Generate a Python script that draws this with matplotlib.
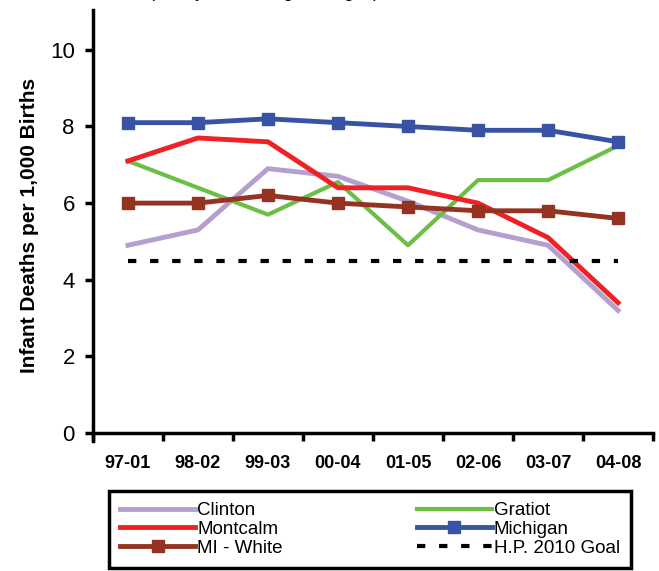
import matplotlib.pyplot as plt
import numpy as np

plt.rcParams['font.family'] = ['Liberation Sans', 'DejaVu Sans']

periods = ["97-01", "98-02", "99-03", "00-04", "01-05", "02-06", "03-07", "04-08"]
clinton = [4.9, 5.3, 6.9, 6.7, 6.05, 5.3, 4.9, 3.2]
gratiot = [7.1, 6.4, 5.7, 6.55, 4.9, 6.6, 6.6, 7.5]
montcalm = [7.1, 7.7, 7.6, 6.4, 6.4, 6.0, 5.1, 3.4]
michigan = [8.1, 8.1, 8.2, 8.1, 8.0, 7.9, 7.9, 7.6]
mi_white = [6.0, 6.0, 6.2, 6.0, 5.9, 5.8, 5.8, 5.6]
goal = 4.5

fig = plt.figure(figsize=(6.59, 5.71), dpi=100)
ax = fig.add_axes([0.141, 0.2282, 0.85, 0.7543])
x = np.arange(len(periods))

# move the x axis to y=0 first (this resets the tick styling)
ax.spines["top"].set_visible(False)
ax.spines["right"].set_visible(False)
ax.spines["bottom"].set_position(("data", 0))
for s in ["left", "bottom"]:
    ax.spines[s].set_linewidth(2.5)

h_cl, = ax.plot(x, clinton, color="#b49fcf", lw=3.5, label="Clinton")
h_gr, = ax.plot(x, gratiot, color="#6cbf45", lw=3.0, label="Gratiot")
h_mo, = ax.plot(x, montcalm, color="#ee2224", lw=3.5, label="Montcalm")
h_mi, = ax.plot(x, michigan, color="#3953a4", lw=3.5, marker="s", ms=8,
                label="Michigan")
h_wh, = ax.plot(x, mi_white, color="#953322", lw=3.5, marker="s", ms=8,
                label="MI - White")
h_go, = ax.plot([x[0], x[-1]], [goal, goal], color="black", lw=3,
                dashes=(2, 3.3), label="H.P. 2010 Goal")

ax.set_xlim(-0.5, 7.5)
ax.set_ylim(-0.2, 11.04)
ax.set_yticks([0, 2, 4, 6, 8, 10])
ax.set_yticklabels(["0", "2", "4", "6", "8", "10"],
                   family=["Liberation Sans Narrow", "Liberation Sans"])
ax.set_xticks(x)
ax.set_xticklabels(periods, fontweight="bold", fontsize=13)
ax.set_xticks(np.arange(-0.5, 8, 1), minor=True)
ax.tick_params(axis="x", which="major", length=0, pad=16)
ax.tick_params(axis="x", which="minor", length=6, width=2.5, direction="out")
ax.tick_params(axis="y", length=6, width=2.5, labelsize=16, pad=7)
ax.set_ylabel("Infant Deaths per 1,000 Births", fontweight="bold", fontsize=15,
              labelpad=8)

# subtitle, cut off at the top edge as in the source
fig.text(0.4, 1.0 + 3.0 / 571, "(Five-year Moving Averages)", ha="center",
         va="baseline", fontsize=13)

leg = fig.legend(handles=[h_cl, h_mo, h_wh, h_gr, h_mi, h_go], ncol=2,
                 loc="upper left", bbox_to_anchor=(0.1654, -0.06, 0.792, 0.2),
                 mode="expand", fontsize=13.5, handlelength=4.0, handletextpad=0.1,
                 labelspacing=0.08, borderpad=0.6, columnspacing=1.0,
                 fancybox=False, framealpha=1, borderaxespad=0)
leg.get_frame().set_edgecolor("black")
leg.get_frame().set_linewidth(2.5)

fig.savefig("out.png", dpi=100)
